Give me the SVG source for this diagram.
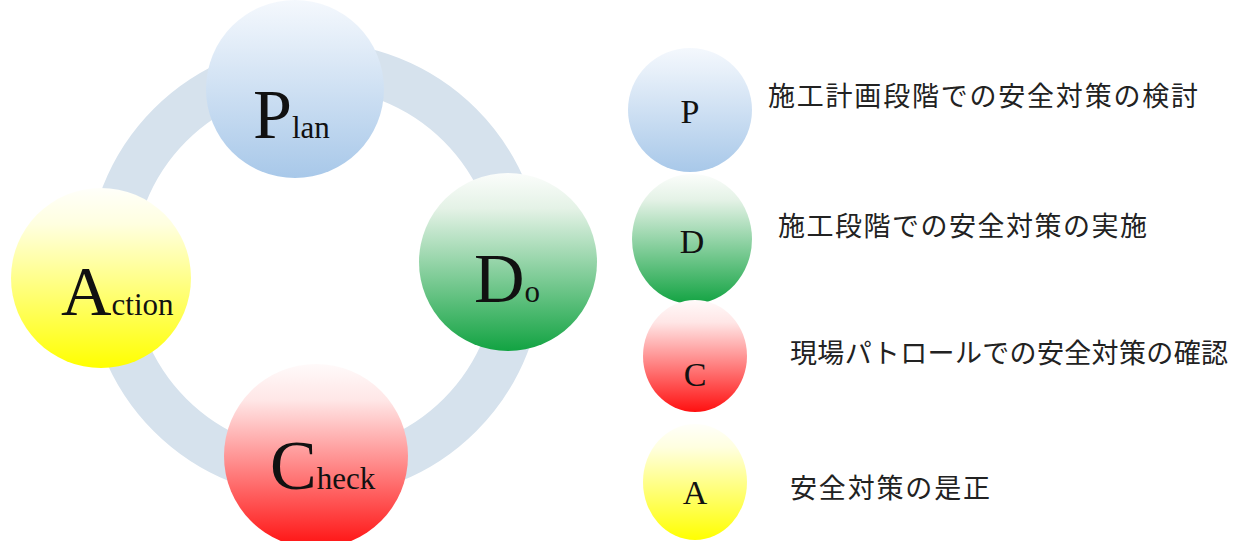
<svg xmlns="http://www.w3.org/2000/svg" width="1238" height="541" viewBox="0 0 1238 541">
<defs>
<linearGradient id="gP" x1="0" y1="0" x2="0" y2="1"><stop offset="0" stop-color="#f4f8fd"/><stop offset="0.2" stop-color="#e6eff9"/><stop offset="1" stop-color="#a8c8e9"/></linearGradient>
<linearGradient id="gD" x1="0" y1="0" x2="0" y2="1"><stop offset="0" stop-color="#fbfdfb"/><stop offset="0.2" stop-color="#e4f2e6"/><stop offset="1" stop-color="#12a342"/></linearGradient>
<linearGradient id="gC" x1="0" y1="0" x2="0" y2="1"><stop offset="0" stop-color="#fffafa"/><stop offset="0.2" stop-color="#ffe6e6"/><stop offset="1" stop-color="#ff1010"/></linearGradient>
<linearGradient id="gA" x1="0" y1="0" x2="0" y2="1"><stop offset="0" stop-color="#fffffa"/><stop offset="0.2" stop-color="#ffffe0"/><stop offset="1" stop-color="#ffff00"/></linearGradient>
</defs>
<style>
.big{font-family:"Liberation Serif",serif;font-size:70px;fill:#111}
.sm{font-family:"Liberation Serif",serif;font-size:31px;fill:#111}
.lg{font-family:"Liberation Serif",serif;font-size:34px;fill:#111;text-anchor:middle}
.jp{font-family:"Noto Sans CJK JP",sans-serif;font-size:27px;fill:#222}
</style>
<rect width="1238" height="541" fill="#ffffff"/>
<g id="connectors">
<circle cx="315" cy="270" r="205" fill="none" stroke="#d6e2ed" stroke-width="46"/>
</g>
<g id="plan">
<circle cx="295" cy="89" r="89" fill="url(#gP)"/>
<text x="253" y="138"><tspan class="big">P</tspan><tspan class="sm">lan</tspan></text>
</g>
<g id="do">
<circle cx="508" cy="262" r="89" fill="url(#gD)"/>
<text x="474" y="302"><tspan class="big">D</tspan><tspan class="sm">o</tspan></text>
</g>
<g id="action">
<circle cx="101" cy="278" r="90" fill="url(#gA)"/>
<text x="61" y="315"><tspan class="big">A</tspan><tspan class="sm">ction</tspan></text>
</g>
<g id="check">
<circle cx="316" cy="456" r="92" fill="url(#gC)"/>
<text x="270" y="489"><tspan class="big">C</tspan><tspan class="sm">heck</tspan></text>
</g>
<g id="legend-p">
<ellipse cx="690" cy="110" rx="62" ry="62" fill="url(#gP)"/>
<text class="lg" x="690" y="123">P</text>
<text class="jp" x="768" y="106" textLength="430">施工計画段階での安全対策の検討</text>
</g>
<g id="legend-d">
<ellipse cx="692" cy="239" rx="60" ry="65" fill="url(#gD)"/>
<text class="lg" x="692" y="253">D</text>
<text class="jp" x="778" y="236" textLength="369">施工段階での安全対策の実施</text>
</g>
<g id="legend-c">
<ellipse cx="695" cy="356" rx="52" ry="56" fill="url(#gC)"/>
<text class="lg" x="695" y="386">C</text>
<text class="jp" x="790" y="363" textLength="438">現場パトロールでの安全対策の確認</text>
</g>
<g id="legend-a">
<ellipse cx="695" cy="482" rx="52" ry="58" fill="url(#gA)"/>
<text class="lg" x="695" y="504">A</text>
<text class="jp" x="790" y="498" textLength="200">安全対策の是正</text>
</g>
</svg>
